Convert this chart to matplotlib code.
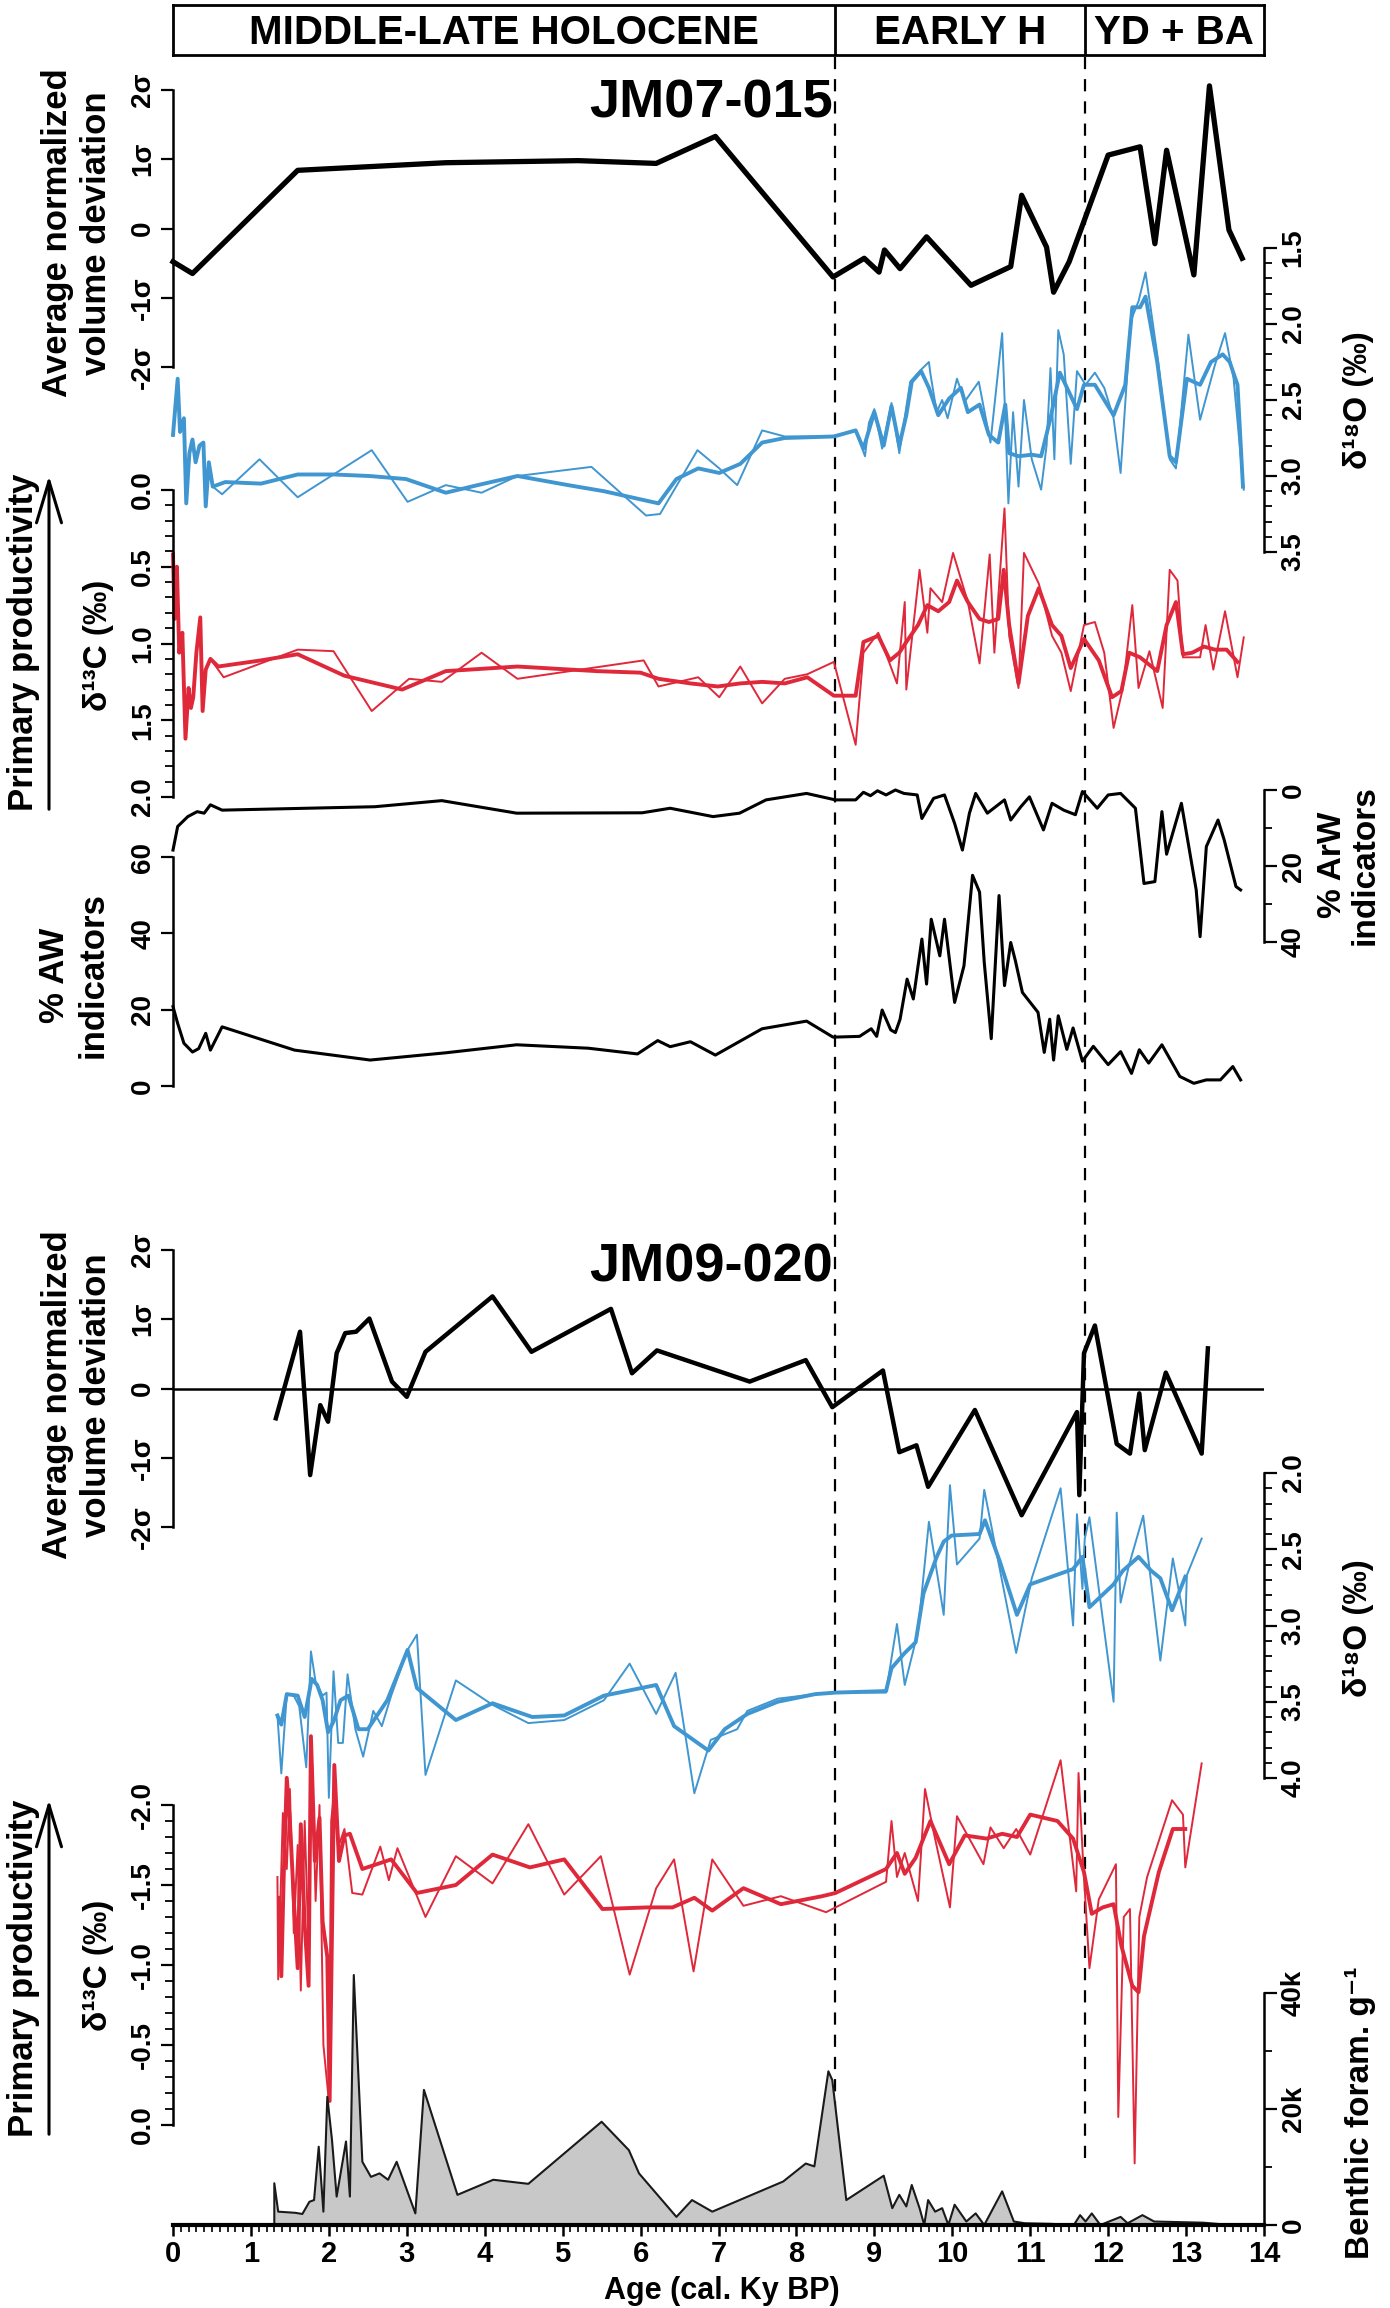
import matplotlib
matplotlib.use("Agg")
import matplotlib.pyplot as plt
from matplotlib.patches import FancyArrowPatch

plt.rcParams['font.family'] = ['Liberation Sans', 'DejaVu Sans']
plt.rcParams['font.weight'] = 'bold'

# ---------------- data (age in cal. ky BP) ----------------
# JM07-015 average normalized volume deviation (sigma)
vol07_age = [0, 0.25, 1.6, 3.5, 5.2, 6.2, 6.96, 8.47, 8.87, 9.06, 9.13, 9.33, 9.67, 10.24, 10.75,
             10.89, 11.21, 11.30, 11.50, 12.0, 12.41, 12.6, 12.75, 13.1, 13.3, 13.55, 13.72]
vol07_val = [-0.48, -0.65, 0.84, 0.95, 0.98, 0.94, 1.33, -0.70, -0.43, -0.63, -0.31, -0.58, -0.12,
             -0.82, -0.55, 0.48, -0.27, -0.92, -0.48, 1.06, 1.18, -0.22, 1.13, -0.67, 2.06, -0.02, -0.43]

# JM07-015 d18O, smoothed (thick) and raw (thin)
o07_age = [0.0, 0.06, 0.09, 0.14, 0.17, 0.21, 0.25, 0.29, 0.34, 0.39, 0.42, 0.46, 0.51, 0.67, 1.13, 1.6,
           2.06, 2.52, 2.99, 3.5, 3.91, 4.42, 5.07, 5.53, 6.23, 6.46, 6.74, 7.01, 7.28, 7.56, 7.85, 8.48,
           8.76, 8.86, 9.0, 9.12, 9.22, 9.32, 9.41, 9.48, 9.60, 9.70, 9.82, 9.96, 10.11, 10.2, 10.35,
           10.47, 10.59, 10.68, 10.73, 10.85, 11.02, 11.14, 11.26, 11.38, 11.5, 11.6, 11.69, 11.83, 12.07,
           12.22, 12.31, 12.41, 12.48, 12.63, 12.79, 12.87, 13.01, 13.18, 13.32, 13.47, 13.56, 13.66, 13.73]
o07_val = [2.73, 2.36, 2.71, 2.62, 3.18, 2.85, 2.76, 2.91, 2.80, 2.78, 3.20, 2.91, 3.07, 3.04, 3.05, 2.99,
           2.99, 3.0, 3.02, 3.11, 3.06, 3.0, 3.06, 3.1, 3.18, 3.02, 2.95, 2.98, 2.92, 2.78, 2.75, 2.74,
           2.70, 2.82, 2.58, 2.80, 2.54, 2.80, 2.60, 2.38, 2.31, 2.42, 2.60, 2.49, 2.42, 2.58, 2.53,
           2.73, 2.78, 2.53, 2.85, 2.87, 2.86, 2.87, 2.62, 2.32, 2.45, 2.56, 2.40, 2.40, 2.60,
           2.40, 1.89, 1.89, 1.82, 2.25, 2.87, 2.91, 2.36, 2.40, 2.25, 2.20, 2.25, 2.40, 3.07]
o07_raw_age = [0.0, 0.06, 0.09, 0.14, 0.17, 0.21, 0.25, 0.29, 0.34, 0.39, 0.42, 0.46, 0.51, 0.63, 1.11,
               1.6, 2.55, 3.01, 3.5, 3.96, 4.42, 5.37, 6.07, 6.25, 6.73, 7.01, 7.24, 7.56, 7.85, 8.48,
               8.76, 8.88, 8.93, 9.0, 9.10, 9.22, 9.32, 9.46, 9.60, 9.70, 9.72, 9.80, 9.87, 9.94, 10.06,
               10.16, 10.34, 10.49, 10.64, 10.72, 10.78, 10.85, 10.92, 11.02, 11.14, 11.21, 11.26, 11.31,
               11.36, 11.43, 11.52, 11.6, 11.71, 11.83, 11.95, 12.07, 12.16, 12.29, 12.39, 12.48, 12.63,
               12.79, 12.87, 13.03, 13.18, 13.37, 13.5, 13.61, 13.74]
o07_raw_val = [2.73, 2.36, 2.71, 2.62, 3.18, 2.85, 2.76, 2.91, 2.80, 2.78, 3.20, 2.91, 3.07, 3.12, 2.89,
               3.14, 2.83, 3.17, 3.06, 3.11, 3.0, 2.94, 3.26, 3.25, 2.83, 2.95, 3.06, 2.70, 2.74, 2.74,
               2.70, 2.87, 2.65, 2.56, 2.82, 2.52, 2.85, 2.38, 2.30, 2.25, 2.33, 2.58, 2.50, 2.62, 2.36,
               2.51, 2.38, 2.78, 2.06, 3.18, 2.58, 3.07, 2.50, 2.89, 3.09, 2.80, 2.29, 2.89,
               2.04, 2.20, 2.92, 2.31, 2.40, 2.32, 2.42, 2.62, 2.98, 1.98, 1.85, 1.66, 2.20,
               2.89, 2.95, 2.07, 2.63, 2.27, 2.06, 2.36, 3.09]

# JM07-015 d13C, smoothed (thick) and raw (thin)
c07_age = [0, 0.02, 0.05, 0.08, 0.12, 0.16, 0.2, 0.23, 0.26, 0.3, 0.35, 0.38, 0.42, 0.48, 0.58, 1.13, 1.6,
           2.2, 2.94, 3.5, 4.42, 5.44, 6.0, 6.23, 6.64, 6.99, 7.28, 7.56, 7.85, 8.14, 8.48, 8.76, 8.86,
           9.05, 9.2, 9.32, 9.41, 9.56, 9.68, 9.82, 9.96, 10.06, 10.2, 10.35, 10.47, 10.59, 10.66, 10.73,
           10.85, 10.97, 11.11, 11.28, 11.4, 11.52, 11.69, 11.88, 12.05, 12.17, 12.27, 12.41, 12.63,
           12.75, 12.87, 12.96, 13.08, 13.23, 13.37, 13.52, 13.66]
c07_val = [0.42, 0.84, 0.50, 1.06, 0.93, 1.62, 1.29, 1.42, 1.35, 1.06, 0.83, 1.44, 1.17, 1.10, 1.15, 1.11,
           1.07, 1.21, 1.30, 1.18, 1.15, 1.18, 1.19, 1.23, 1.26, 1.28, 1.26, 1.25, 1.26, 1.22, 1.34, 1.34,
           0.99, 0.95, 1.11, 1.06, 0.99, 0.88, 0.75, 0.79, 0.73, 0.59, 0.73, 0.84, 0.86, 0.84, 0.52, 0.88,
           1.26, 0.82, 0.64, 0.88, 0.95, 1.16, 0.97, 1.11, 1.35, 1.31, 1.06, 1.09, 1.18,
           0.88, 0.73, 1.07, 1.06, 1.02, 1.04, 1.04, 1.12]
c07_raw_age = [0, 0.02, 0.05, 0.08, 0.12, 0.16, 0.2, 0.23, 0.26, 0.3, 0.35, 0.38, 0.42, 0.48, 0.65, 1.6,
               2.06, 2.55, 3.03, 3.45, 3.96, 4.42, 6.04, 6.23, 6.74, 7.01, 7.28, 7.56, 7.85, 8.14, 8.48,
               8.76, 8.86, 9.05, 9.29, 9.39, 9.41, 9.58, 9.68, 9.72, 9.87, 10.01, 10.2, 10.35, 10.48,
               10.54, 10.67, 10.73, 10.85, 10.92, 11.11, 11.28, 11.4, 11.52, 11.69, 11.83, 11.95, 12.07,
               12.19, 12.31, 12.39, 12.53, 12.7, 12.79, 12.89, 12.96, 13.18, 13.25, 13.35, 13.5, 13.66, 13.74]
c07_raw_val = [0.42, 0.84, 0.50, 1.06, 0.93, 1.62, 1.29, 1.42, 1.35, 1.06, 0.83, 1.44, 1.17, 1.10, 1.22,
               1.04, 1.05, 1.44, 1.23, 1.25, 1.06, 1.23, 1.11, 1.28, 1.22, 1.35, 1.15, 1.39, 1.23, 1.20,
               1.12, 1.66, 1.06, 0.93, 1.26, 0.73, 1.30, 0.52, 0.93, 0.64, 0.73, 0.41, 0.73, 1.13, 0.42,
               1.06, 0.12, 0.95, 1.29, 0.41, 0.61, 0.95, 1.06, 1.31, 0.88, 0.86, 1.06, 1.55,
               1.29, 0.75, 1.29, 1.05, 1.42, 0.52, 0.59, 1.09, 1.09, 0.88, 1.17, 0.79, 1.22, 0.96]

# JM07-015 % ArW indicators (right axis) and % AW indicators (left axis)
arw_age = [0, 0.06, 0.19, 0.31, 0.4, 0.48, 0.63, 2.59, 3.45, 4.41, 6.02, 6.38, 6.93, 7.27, 7.61, 8.13,
           8.5, 8.76, 8.86, 8.95, 9.04, 9.15, 9.27, 9.38, 9.55, 9.61, 9.76, 9.9, 10.03, 10.13, 10.22,
           10.3, 10.45, 10.67, 10.75, 10.88, 10.99, 11.17, 11.28, 11.43, 11.58, 11.67, 11.86, 12.0,
           12.16, 12.35, 12.46, 12.6, 12.69, 12.75, 12.94, 13.13, 13.18, 13.26, 13.41, 13.49, 13.64, 13.7]
arw_val = [15.8, 9.6, 7.0, 5.7, 6.1, 3.9, 5.3, 4.4, 2.8, 6.1, 6.0, 4.8, 7.0, 6.1, 2.6, 0.9,
           2.6, 2.6, 0.6, 1.5, 0.2, 1.3, 0.0, 0.9, 1.3, 7.5, 2.2, 1.3, 8.8, 15.8, 6.1,
           0.9, 6.1, 2.6, 7.9, 4.4, 1.8, 10.5, 3.5, 5.3, 6.5, 0.4, 4.8, 1.3,
           0.9, 4.8, 24.6, 24.1, 5.7, 16.9, 3.5, 26.3, 38.6, 14.9, 7.9, 13.2, 25.4, 26.3]
aw_age = [0, 0.06, 0.14, 0.25, 0.33, 0.42, 0.48, 0.63, 1.56, 2.53, 3.5, 4.41, 5.33, 5.96, 6.22, 6.38,
          6.64, 6.96, 7.56, 8.13, 8.47, 8.81, 8.96, 9.03, 9.1, 9.21, 9.27, 9.33, 9.42, 9.5, 9.61, 9.67,
          9.73, 9.84, 9.9, 10.03, 10.15, 10.26, 10.35, 10.41, 10.5, 10.6, 10.67, 10.75, 10.81, 10.9,
          11.1, 11.18, 11.25, 11.3, 11.36, 11.47, 11.55, 11.67, 11.81, 12.0, 12.16, 12.3, 12.4, 12.52,
          12.69, 12.92, 13.1, 13.26, 13.44, 13.6, 13.7]
aw_val = [20.8, 16.4, 11.2, 8.9, 9.8, 13.8, 9.4, 15.5, 9.4, 6.8, 8.7, 10.8, 9.9, 8.4, 11.9, 10.3,
          11.6, 8.1, 15.0, 17.0, 12.8, 13.0, 15.0, 13.0, 19.9, 14.7, 14.0, 17.5, 28.0, 22.8, 38.5, 26.7,
          43.7, 34.1, 43.7, 21.9, 31.5, 55.2, 50.8, 32.4, 12.4, 49.9, 26.3, 37.6, 32.8, 24.5,
          19.3, 8.8, 17.5, 6.8, 18.4, 9.6, 15.2, 6.5, 10.4, 5.6, 9.0, 3.3, 9.5, 6.0,
          10.8, 2.5, 0.7, 1.6, 1.6, 5.1, 1.6]

# JM09-020 average normalized volume deviation (sigma)
vol09_age = [1.32, 1.63, 1.76, 1.89, 1.99, 2.10, 2.21, 2.35, 2.52, 2.81, 3.00, 3.24, 4.10, 4.60, 5.62,
             5.89, 6.21, 7.40, 8.12, 8.46, 9.11, 9.32, 9.54, 9.69, 10.29, 10.89, 11.60, 11.63, 11.69,
             11.83, 12.11, 12.28, 12.40, 12.47, 12.74, 13.20, 13.28]
vol09_val = [-0.43, 0.82, -1.25, -0.24, -0.48, 0.51, 0.80, 0.82, 1.01, 0.10, -0.12, 0.53, 1.33, 0.53, 1.15,
             0.22, 0.55, 0.10, 0.41, -0.27, 0.26, -0.92, -0.82, -1.42, -0.31, -1.83, -0.34, -1.54, 0.51,
             0.91, -0.80, -0.94, -0.07, -0.89, 0.23, -0.94, 0.58]

# JM09-020 d18O, smoothed (thick) and raw (thin)
o09_age = [1.34, 1.39, 1.46, 1.6, 1.69, 1.78, 1.85, 1.92, 1.99, 2.06, 2.15, 2.25, 2.38, 2.5, 2.75, 3.01,
           3.13, 3.63, 4.1, 4.61, 5.02, 5.53, 6.2, 6.43, 6.87, 7.08, 7.37, 7.76, 8.24, 8.5, 9.15, 9.22,
           9.39, 9.53, 9.63, 9.8, 9.89, 9.99, 10.35, 10.42, 10.61, 10.83, 11.0, 11.55, 11.67, 11.76,
           12.07, 12.19, 12.39, 12.55, 12.67, 12.82, 12.99]
o09_val = [3.59, 3.65, 3.45, 3.46, 3.60, 3.35, 3.39, 3.49, 3.70, 3.63, 3.49, 3.46, 3.68, 3.68, 3.49, 3.16,
           3.41, 3.62, 3.51, 3.60, 3.59, 3.46, 3.39, 3.66, 3.82, 3.68, 3.58, 3.50, 3.45, 3.44, 3.43, 3.28,
           3.18, 3.11, 2.79, 2.55, 2.45, 2.41, 2.40, 2.31, 2.58, 2.93, 2.73, 2.63, 2.55, 2.88,
           2.73, 2.64, 2.55, 2.64, 2.69, 2.90, 2.68]
o09_raw_age = [1.34, 1.39, 1.46, 1.55, 1.62, 1.71, 1.77, 1.83, 1.92, 1.97, 2.0, 2.06, 2.12, 2.18, 2.24,
               2.34, 2.44, 2.57, 2.68, 2.8, 3.01, 3.13, 3.24, 3.63, 4.1, 4.56, 5.02, 5.53, 5.86, 6.2,
               6.45, 6.69, 6.9, 7.24, 7.37, 7.76, 8.24, 8.5, 9.15, 9.29, 9.39, 9.56, 9.7, 9.89, 9.97,
               10.06, 10.35, 10.41, 10.82, 11.02, 11.39, 11.55, 11.6, 11.67, 11.7, 11.76, 12.07, 12.11,
               12.16, 12.27, 12.45, 12.67, 12.83, 12.99, 13.01, 13.2]
o09_raw_val = [3.59, 3.97, 3.45, 3.46, 3.53, 3.93, 3.17, 3.37, 3.46, 3.44, 4.13, 3.30, 3.77, 3.77, 3.32,
               3.68, 3.86, 3.56, 3.66, 3.46, 3.16, 3.06, 3.98, 3.36, 3.52, 3.64, 3.62, 3.49, 3.25, 3.58,
               3.31, 4.10, 3.75, 3.68, 3.56, 3.48, 3.45, 3.44, 3.44, 2.99, 3.39, 3.04, 2.32, 2.93, 2.08,
               2.60, 2.43, 2.11, 3.18, 2.69, 2.10, 3.0, 2.27, 2.76, 2.43, 2.29, 3.50, 2.26,
               2.85, 2.60, 2.28, 3.23, 2.56, 3.0, 2.67, 2.43]

# JM09-020 d13C, smoothed (thick) and raw (thin)
c09_age = [1.36, 1.39, 1.42, 1.46, 1.5, 1.55, 1.6, 1.64, 1.69, 1.74, 1.77, 1.82, 1.88, 1.92, 1.98, 2.01,
           2.07, 2.13, 2.2, 2.27, 2.43, 2.8, 3.13, 3.63, 4.1, 4.58, 5.02, 5.51, 6.09, 6.41, 6.69, 6.92,
           7.32, 7.80, 8.33, 8.5, 9.15, 9.29, 9.39, 9.53, 9.72, 9.96, 10.16, 10.44, 10.64, 10.83, 11.0,
           11.35, 11.55, 11.69, 11.79, 11.93, 12.07, 12.17, 12.31, 12.39, 12.46, 12.65, 12.83, 12.99]
c09_val = [-1.42, -0.93, -1.54, -2.17, -1.90, -1.41, -0.98, -1.88, -1.25, -0.87, -2.43, -1.65, -1.92,
           -1.27, -1.05, -0.15, -2.25, -1.65, -1.81, -1.82, -1.60, -1.66, -1.45, -1.5, -1.69, -1.61, -1.66,
           -1.35, -1.36, -1.36, -1.42, -1.34, -1.48, -1.38, -1.43, -1.45, -1.60, -1.70, -1.57, -1.67,
           -1.90, -1.63, -1.81, -1.79, -1.82, -1.80, -1.94, -1.90, -1.79, -1.58, -1.32, -1.36, -1.38,
           -1.12, -0.87, -0.83, -1.18, -1.58, -1.85, -1.85]
c09_raw_age = [1.34, 1.35, 1.41, 1.46, 1.5, 1.55, 1.6, 1.64, 1.69, 1.74, 1.78, 1.83, 1.88, 1.93, 2.0,
               2.03, 2.07, 2.13, 2.2, 2.3, 2.43, 2.66, 2.77, 2.88, 3.24, 3.63, 4.1, 4.56, 5.02, 5.49,
               5.86, 6.2, 6.43, 6.68, 6.92, 7.32, 7.8, 8.38, 9.15, 9.22, 9.29, 9.39, 9.56, 9.65, 9.77,
               9.97, 10.06, 10.4, 10.49, 10.66, 10.82, 11.0, 11.39, 11.59, 11.62, 11.68, 11.76, 11.88,
               12.1, 12.13, 12.2, 12.28, 12.34, 12.4, 12.5, 12.82, 12.96, 12.99, 13.2]
c09_raw_val = [-1.55, -0.91, -1.95, -1.60, -2.10, -1.20, -1.75, -0.84, -1.90, -1.10, -2.35, -1.40, -2.0,
               -0.50, -0.15, -1.90, -2.10, -1.75, -1.85, -1.45, -1.44, -1.74, -1.53, -1.73, -1.30, -1.68,
               -1.51, -1.88, -1.44, -1.68, -0.94, -1.48, -1.66, -0.96, -1.66, -1.37, -1.43, -1.33, -1.52,
               -1.90, -1.55, -1.70, -1.40, -2.10, -1.81, -1.36, -1.93, -1.63, -1.86, -1.73, -1.85, -1.69,
               -2.28, -1.46, -2.20, -1.63, -0.98, -1.41, -1.63, -0.05, -1.30, -1.35, 0.24, -1.30, -1.55,
               -2.03, -1.94, -1.61, -2.26]

# JM09-020 benthic foraminifera (thousand specimens per g)
bf_age = [1.30, 1.30, 1.35, 1.57, 1.66, 1.75, 1.81, 1.87, 1.93, 1.98, 2.04, 2.10, 2.22, 2.27, 2.32, 2.43,
          2.54, 2.65, 2.76, 2.87, 3.11, 3.22, 3.65, 4.11, 4.56, 5.5, 5.85, 5.98, 6.46, 6.66, 6.92, 7.83,
          8.12, 8.23, 8.41, 8.46, 8.64, 9.12, 9.23, 9.32, 9.41, 9.48, 9.58, 9.64, 9.69, 9.78, 9.87,
          9.95, 10.03, 10.18, 10.3, 10.41, 10.64, 10.79, 10.93, 11.27, 11.56, 11.64, 11.71, 11.79, 11.9,
          12.16, 12.25, 12.44, 12.59, 13.22, 13.57]
bf_val = [0, 7.2, 2.3, 2.1, 1.9, 4.0, 4.3, 13.5, 2.3, 22.1, 14.7, 4.9, 14.4, 4.9, 43.1, 10.9,
          8.3, 8.9, 7.8, 10.9, 2.0, 23.3, 5.2, 7.8, 7.1, 17.8, 12.9, 8.9, 1.4, 4.3, 2.3, 7.5,
          10.6, 10.1, 26.5, 25.0, 4.3, 8.5, 2.9, 5.2, 3.2, 6.9, 2.9, 0, 4.3, 2.3, 2.9,
          0, 3.5, 0.6, 2.0, 0, 5.8, 0.6, 0.3, 0.2, 0, 1.7, 0.6, 2.0, 0,
          1.4, 0.3, 1.7, 0.6, 0.4, 0]

periods = ["MIDDLE-LATE HOLOCENE", "EARLY H", "YD + BA"]
period_bounds = [0, 8.5, 11.7, 14]

BLUE = '#4096d0'
RED = '#df293b'

# ---------------- layout helpers ----------------
W, H = 1390, 2308
X0, X1 = 173, 1264   # pixel columns of age 0 and age 14

fig = plt.figure(figsize=(W / 100, H / 100), dpi=100)


def panel(top, bottom):
    ax = fig.add_axes([X0 / W, 1 - bottom / H, (X1 - X0) / W, (bottom - top) / H], facecolor='none')
    ax.set_xlim(0, 14)
    return ax


def yaxis_style(ax, side, ylim, major, labels, minor=()):
    ax.set_ylim(*ylim)
    for s in ax.spines.values():
        s.set_visible(False)
    ax.spines[side].set_visible(True)
    ax.spines[side].set_linewidth(1.8)
    ax.set_xticks([])
    if side == 'right':
        ax.yaxis.tick_right()
    ax.set_yticks(major)
    ax.set_yticklabels(labels)
    ax.set_yticks(list(minor), minor=True)
    ax.tick_params(axis='y', which='major', length=9, width=1.6, labelsize=20, pad=3, labelrotation=90)
    ax.tick_params(axis='y', which='minor', length=6, width=1.3)
    for t in ax.get_yticklabels():
        t.set_va('center')
        t.set_ha('right' if side == 'left' else 'left')


def ftext(px, py, s, **kw):
    fig.text(px / W, 1 - py / H, s, **kw)


def frange(a, b, step):
    n = int(round((b - a) / step))
    return [round(a + i * step, 3) for i in range(n + 1)]


# dashed boundaries behind everything
dax = panel(55, 2158)
dax.axis('off')
for b in period_bounds[1:3]:
    dax.axvline(b, color='black', lw=1.6, ls=(0, (5.5, 4.5)))

# header box
hax = panel(5, 55)
hax.set_ylim(0, 1)
hax.set_xticks([])
hax.set_yticks([])
for s in hax.spines.values():
    s.set_linewidth(2)
for b in period_bounds[1:3]:
    hax.axvline(b, color='black', lw=2)
for i, name in enumerate(periods):
    hax.text((period_bounds[i] + period_bounds[i + 1]) / 2, 0.45, name, ha='center', va='center',
             fontsize=29, weight='bold')

# ---------------- JM07-015 ----------------
ax = panel(90, 367)
yaxis_style(ax, 'left', (-2, 2), [-2, -1, 0, 1, 2], ['-2σ', '-1σ', '0', '1σ', '2σ'])
ax.plot(vol07_age, vol07_val, color='black', lw=3.8, clip_on=False)

ax = panel(248, 552)
yaxis_style(ax, 'right', (3.5, 1.5), frange(1.5, 3.5, 0.5), ['1.5', '2.0', '2.5', '3.0', '3.5'],
            frange(1.5, 3.5, 0.1))
ax.plot(o07_raw_age, o07_raw_val, color=BLUE, lw=1.4, clip_on=False)
ax.plot(o07_age, o07_val, color=BLUE, lw=2.8, clip_on=False)

ax = panel(490, 797)
yaxis_style(ax, 'left', (2.0, 0.0), frange(0, 2, 0.5), ['0.0', '0.5', '1.0', '1.5', '2.0'],
            frange(0, 2, 0.1))
ax.plot(c07_raw_age, c07_raw_val, color=RED, lw=1.4, clip_on=False)
ax.plot(c07_age, c07_val, color=RED, lw=2.8, clip_on=False)

ax = panel(790, 942)
yaxis_style(ax, 'right', (40, 0), [0, 20, 40], ['0', '20', '40'], [10, 30])
ax.plot(arw_age, arw_val, color='black', lw=2.2, clip_on=False)

ax = panel(857, 1086)
yaxis_style(ax, 'left', (0, 60), [0, 20, 40, 60], ['0', '20', '40', '60'])
ax.plot(aw_age, aw_val, color='black', lw=2.2, clip_on=False)

# ---------------- JM09-020 ----------------
ax = panel(1250, 1527)
yaxis_style(ax, 'left', (-2, 2), [-2, -1, 0, 1, 2], ['-2σ', '-1σ', '0', '1σ', '2σ'])
ax.axhline(0, color='black', lw=1.8)
ax.plot(vol09_age, vol09_val, color='black', lw=3.2, clip_on=False)

ax = panel(1473, 1778)
yaxis_style(ax, 'right', (4.0, 2.0), frange(2, 4, 0.5), ['2.0', '2.5', '3.0', '3.5', '4.0'],
            frange(2, 4, 0.1))
ax.plot(o09_raw_age, o09_raw_val, color=BLUE, lw=1.4, clip_on=False)
ax.plot(o09_age, o09_val, color=BLUE, lw=2.8, clip_on=False)

ax = panel(1805, 2125)
yaxis_style(ax, 'left', (0.0, -2.0), frange(-2, 0, 0.5), ['-2.0', '-1.5', '-1.0', '-0.5', '0.0'],
            frange(-2, 0, 0.1))
ax.plot(c09_raw_age, c09_raw_val, color=RED, lw=1.4, clip_on=False)
ax.plot(c09_age, c09_val, color=RED, lw=2.8, clip_on=False)

ax = panel(1993, 2225)
yaxis_style(ax, 'right', (0, 40), [0, 20, 40], ['0', '20k', '40k'], [10, 30])
ax.fill_between(bf_age, 0, bf_val, facecolor='#c8c8c8', edgecolor='none', clip_on=False)
ax.plot(bf_age, bf_val, color='#1a1a1a', lw=1.5, clip_on=False)
ax.spines['bottom'].set_visible(True)
ax.spines['bottom'].set_linewidth(3)
ax.set_xticks(range(15))
ax.set_xticks(frange(0, 14, 0.1), minor=True)
ax.tick_params(axis='x', which='major', length=8, width=1.8, labelsize=21, pad=3)
ax.tick_params(axis='x', which='minor', length=5, width=1.2)

# ---------------- text ----------------
ftext(833, 104, 'JM07-015', ha='right', va='center', fontsize=39, weight='bold')
ftext(833, 1268, 'JM09-020', ha='right', va='center', fontsize=39, weight='bold')

for yc in (233, 1395):
    ftext(77, yc, 'Average normalized\nvolume deviation', rotation=90, ha='center', va='center',
          fontsize=25, weight='bold')
ftext(74, 975, '% AW\nindicators', rotation=90, ha='center', va='center', fontsize=25, weight='bold')
ftext(1349, 865, '% ArW\nindicators', rotation=90, ha='center', va='center', fontsize=24, weight='bold',
      linespacing=1.05)
ftext(98, 645, 'δ¹³C (‰)', rotation=90, ha='center', va='center', fontsize=24, weight='bold')
ftext(98, 1965, 'δ¹³C (‰)', rotation=90, ha='center', va='center', fontsize=24, weight='bold')
ftext(1358, 400, 'δ¹⁸O (‰)', rotation=90, ha='center', va='center', fontsize=24, weight='bold')
ftext(1358, 1628, 'δ¹⁸O (‰)', rotation=90, ha='center', va='center', fontsize=24, weight='bold')
ftext(1360, 2113, 'Benthic foram. g⁻¹', rotation=90, ha='center', va='center', fontsize=24, weight='bold')
ftext(722, 2291, 'Age (cal. Ky BP)', ha='center', va='center', fontsize=22, weight='bold')

for yc, y0, y1 in ((642, 812, 473), (1968, 2137, 1797)):
    ftext(24, yc, 'Primary productivity', rotation=90, ha='center', va='center', fontsize=25,
          weight='bold')
    fig.add_artist(FancyArrowPatch((49 / W, 1 - y0 / H), (49 / W, 1 - y1 / H), transform=fig.transFigure,
                                   arrowstyle='->,head_length=1.0,head_width=0.3', mutation_scale=30,
                                   lw=2.2, color='black'))

fig.savefig('out.png', dpi=100)
